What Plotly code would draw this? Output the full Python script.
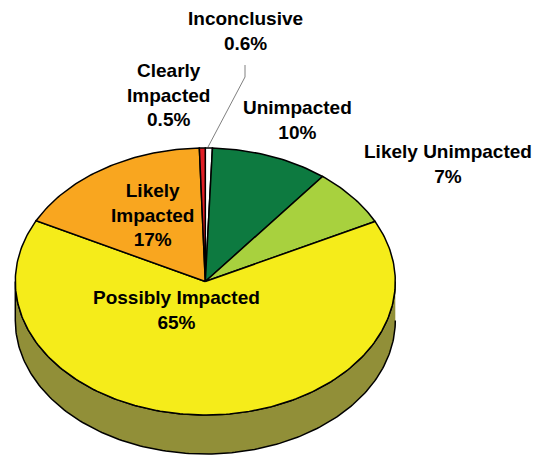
import numpy as np
import plotly.graph_objects as go

# Pie contents, clockwise from twelve o'clock
categories = ["Inconclusive", "Unimpacted", "Likely Unimpacted",
              "Possibly Impacted", "Likely Impacted", "Clearly Impacted"]
values = [0.6, 10, 7, 65, 17, 0.5]
colors = ["#FFFFFF", "#0D7A40", "#A8D13E", "#F5EC1A", "#F9A61F", "#E21F26"]
rim_color = "#918F38"

# Label text, with its centre in page pixels
label_texts = ["Inconclusive<br>0.6%", "Clearly<br>Impacted<br>0.5%", "Unimpacted<br>10%",
               "Likely Unimpacted<br>7%", "Likely<br>Impacted<br>17%", "Possibly Impacted<br>65%"]
label_x = [245, 168, 297, 448, 152, 176]
label_y = [31, 95, 120, 164, 215, 310]

WIDTH, HEIGHT = 547, 455
CX, CY, RX, RY = 205.3, 281.5, 190.0, 133.5   # tilted pie ellipse, pixels
DEPTH = 39.0 / RY                              # rim height, in unit-circle terms

fig = go.Figure()

# Rim: front half of the ellipse, repeated lower down
front = np.linspace(np.pi / 2, 3 * np.pi / 2, 181)
rim_x = np.concatenate([np.sin(front), np.sin(front[::-1])])
rim_y = np.concatenate([np.cos(front), np.cos(front[::-1]) - DEPTH])
fig.add_trace(go.Scatter(x=rim_x, y=rim_y, mode="lines", fill="toself", fillcolor=rim_color,
                         line=dict(color="black", width=1.5), hoverinfo="skip", showlegend=False))

# Top face: one filled wedge per category
shares = np.array(values, dtype=float) / sum(values)
edges = np.concatenate([[0.0], np.cumsum(shares)]) * 2 * np.pi
for name, value, color, start, end in zip(categories, values, colors, edges[:-1], edges[1:]):
    theta = np.linspace(start, end, max(int(np.degrees(end - start)), 2) + 1)
    fig.add_trace(go.Scatter(
        x=np.concatenate([[0], np.sin(theta), [0]]),
        y=np.concatenate([[0], np.cos(theta), [0]]),
        mode="lines", fill="toself", fillcolor=color,
        line=dict(color="black", width=1.5),
        name=name, text=f"{name}: {value}%", hoverinfo="text", showlegend=False))

# Leader from the Inconclusive label down to its sliver
leader_px_x = np.array([245.0, 245.0, 208.0])
leader_px_y = np.array([65.0, 77.0, 147.0])
fig.add_trace(go.Scatter(x=(leader_px_x - CX) / RX, y=(CY - leader_px_y) / RY, mode="lines",
                         line=dict(color="#808080", width=1), hoverinfo="skip", showlegend=False))

for text, px, py in zip(label_texts, label_x, label_y):
    fig.add_annotation(x=px / WIDTH, y=1 - py / HEIGHT, xref="paper", yref="paper",
                       text=f"<b>{text}</b>", showarrow=False, align="center",
                       xanchor="center", yanchor="middle",
                       font=dict(family="Liberation Sans", size=19, color="black"))

fig.update_layout(
    width=WIDTH, height=HEIGHT, margin=dict(l=0, r=0, t=0, b=0),
    paper_bgcolor="white", plot_bgcolor="white", showlegend=False,
    xaxis=dict(range=[-CX / RX, (WIDTH - CX) / RX], visible=False, fixedrange=True),
    yaxis=dict(range=[(CY - HEIGHT) / RY, CY / RY], visible=False, fixedrange=True),
)
fig.write_html("out.html", config={"displayModeBar": False})
